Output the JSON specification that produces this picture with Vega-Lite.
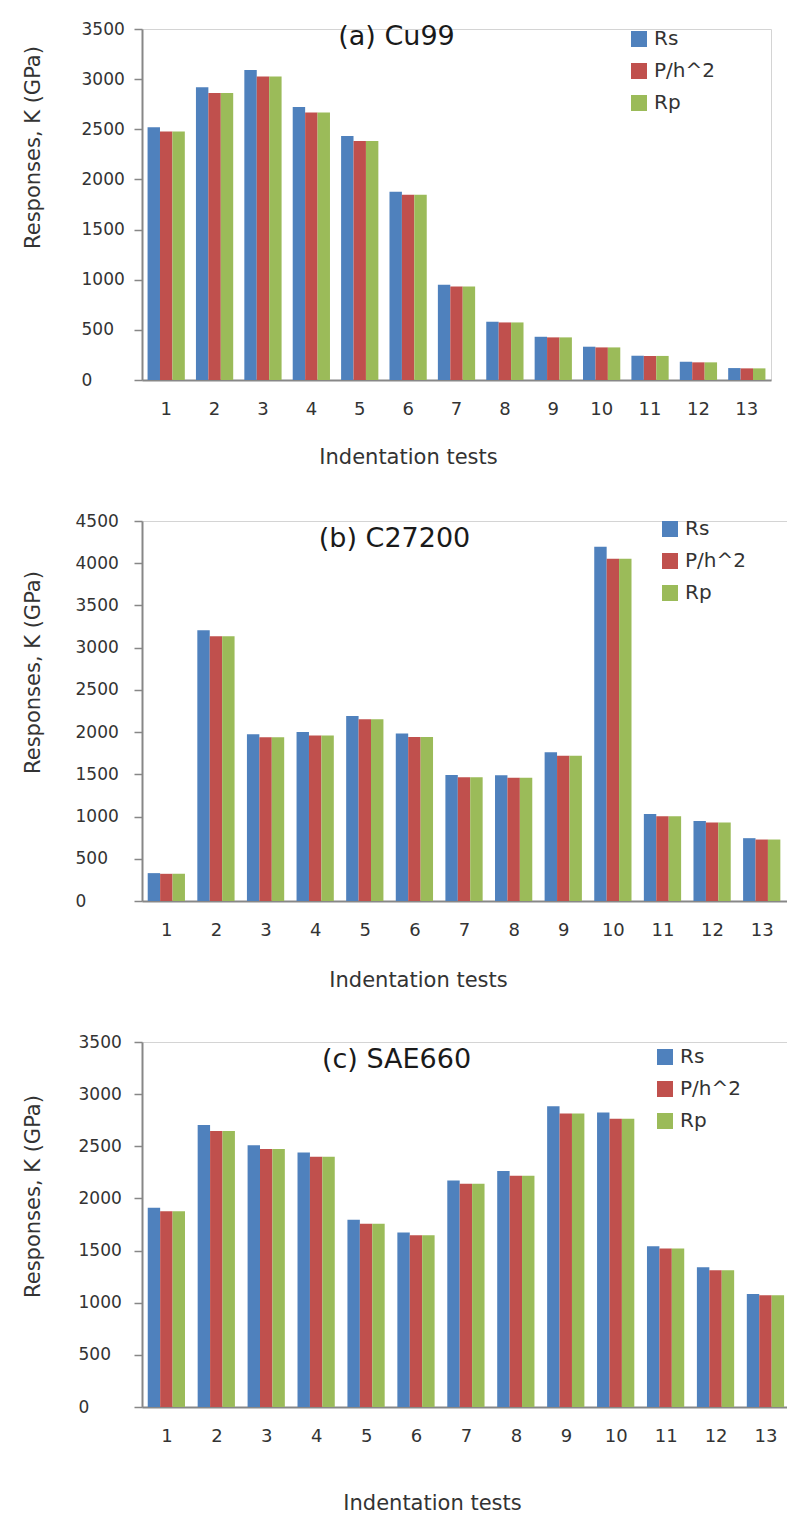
{
  "$schema": "https://vega.github.io/schema/vega-lite/v6.json",
  "background": "white",
  "padding": {"left": 21, "top": 19, "right": 0, "bottom": 0},
  "spacing": 141,
  "bounds": "flush",
  "datasets": {
    "k": [
      {"panel":"a","test":1,"series":"Rs","value":2520},{"panel":"a","test":1,"series":"P/h^2","value":2478},{"panel":"a","test":1,"series":"Rp","value":2478},
      {"panel":"a","test":2,"series":"Rs","value":2920},{"panel":"a","test":2,"series":"P/h^2","value":2863},{"panel":"a","test":2,"series":"Rp","value":2863},
      {"panel":"a","test":3,"series":"Rs","value":3092},{"panel":"a","test":3,"series":"P/h^2","value":3026},{"panel":"a","test":3,"series":"Rp","value":3026},
      {"panel":"a","test":4,"series":"Rs","value":2721},{"panel":"a","test":4,"series":"P/h^2","value":2668},{"panel":"a","test":4,"series":"Rp","value":2668},
      {"panel":"a","test":5,"series":"Rs","value":2432},{"panel":"a","test":5,"series":"P/h^2","value":2382},{"panel":"a","test":5,"series":"Rp","value":2382},
      {"panel":"a","test":6,"series":"Rs","value":1878},{"panel":"a","test":6,"series":"P/h^2","value":1848},{"panel":"a","test":6,"series":"Rp","value":1848},
      {"panel":"a","test":7,"series":"Rs","value":949},{"panel":"a","test":7,"series":"P/h^2","value":932},{"panel":"a","test":7,"series":"Rp","value":932},
      {"panel":"a","test":8,"series":"Rs","value":581},{"panel":"a","test":8,"series":"P/h^2","value":574},{"panel":"a","test":8,"series":"Rp","value":574},
      {"panel":"a","test":9,"series":"Rs","value":431},{"panel":"a","test":9,"series":"P/h^2","value":425},{"panel":"a","test":9,"series":"Rp","value":425},
      {"panel":"a","test":10,"series":"Rs","value":332},{"panel":"a","test":10,"series":"P/h^2","value":325},{"panel":"a","test":10,"series":"Rp","value":325},
      {"panel":"a","test":11,"series":"Rs","value":242},{"panel":"a","test":11,"series":"P/h^2","value":240},{"panel":"a","test":11,"series":"Rp","value":240},
      {"panel":"a","test":12,"series":"Rs","value":182},{"panel":"a","test":12,"series":"P/h^2","value":176},{"panel":"a","test":12,"series":"Rp","value":176},
      {"panel":"a","test":13,"series":"Rs","value":119},{"panel":"a","test":13,"series":"P/h^2","value":116},{"panel":"a","test":13,"series":"Rp","value":116},

      {"panel":"b","test":1,"series":"Rs","value":330},{"panel":"b","test":1,"series":"P/h^2","value":322},{"panel":"b","test":1,"series":"Rp","value":322},
      {"panel":"b","test":2,"series":"Rs","value":3205},{"panel":"b","test":2,"series":"P/h^2","value":3134},{"panel":"b","test":2,"series":"Rp","value":3134},
      {"panel":"b","test":3,"series":"Rs","value":1975},{"panel":"b","test":3,"series":"P/h^2","value":1939},{"panel":"b","test":3,"series":"Rp","value":1939},
      {"panel":"b","test":4,"series":"Rs","value":2002},{"panel":"b","test":4,"series":"P/h^2","value":1959},{"panel":"b","test":4,"series":"Rp","value":1959},
      {"panel":"b","test":5,"series":"Rs","value":2192},{"panel":"b","test":5,"series":"P/h^2","value":2153},{"panel":"b","test":5,"series":"Rp","value":2153},
      {"panel":"b","test":6,"series":"Rs","value":1983},{"panel":"b","test":6,"series":"P/h^2","value":1943},{"panel":"b","test":6,"series":"Rp","value":1943},
      {"panel":"b","test":7,"series":"Rs","value":1492},{"panel":"b","test":7,"series":"P/h^2","value":1464},{"panel":"b","test":7,"series":"Rp","value":1464},
      {"panel":"b","test":8,"series":"Rs","value":1488},{"panel":"b","test":8,"series":"P/h^2","value":1460},{"panel":"b","test":8,"series":"Rp","value":1460},
      {"panel":"b","test":9,"series":"Rs","value":1761},{"panel":"b","test":9,"series":"P/h^2","value":1721},{"panel":"b","test":9,"series":"Rp","value":1721},
      {"panel":"b","test":10,"series":"Rs","value":4195},{"panel":"b","test":10,"series":"P/h^2","value":4052},{"panel":"b","test":10,"series":"Rp","value":4052},
      {"panel":"b","test":11,"series":"Rs","value":1029},{"panel":"b","test":11,"series":"P/h^2","value":1005},{"panel":"b","test":11,"series":"Rp","value":1005},
      {"panel":"b","test":12,"series":"Rs","value":946},{"panel":"b","test":12,"series":"P/h^2","value":930},{"panel":"b","test":12,"series":"Rp","value":930},
      {"panel":"b","test":13,"series":"Rs","value":744},{"panel":"b","test":13,"series":"P/h^2","value":728},{"panel":"b","test":13,"series":"Rp","value":728},

      {"panel":"c","test":1,"series":"Rs","value":1910},{"panel":"c","test":1,"series":"P/h^2","value":1878},{"panel":"c","test":1,"series":"Rp","value":1878},
      {"panel":"c","test":2,"series":"Rs","value":2703},{"panel":"c","test":2,"series":"P/h^2","value":2646},{"panel":"c","test":2,"series":"Rp","value":2646},
      {"panel":"c","test":3,"series":"Rs","value":2511},{"panel":"c","test":3,"series":"P/h^2","value":2473},{"panel":"c","test":3,"series":"Rp","value":2473},
      {"panel":"c","test":4,"series":"Rs","value":2441},{"panel":"c","test":4,"series":"P/h^2","value":2399},{"panel":"c","test":4,"series":"Rp","value":2399},
      {"panel":"c","test":5,"series":"Rs","value":1795},{"panel":"c","test":5,"series":"P/h^2","value":1756},{"panel":"c","test":5,"series":"Rp","value":1756},
      {"panel":"c","test":6,"series":"Rs","value":1673},{"panel":"c","test":6,"series":"P/h^2","value":1647},{"panel":"c","test":6,"series":"Rp","value":1647},
      {"panel":"c","test":7,"series":"Rs","value":2172},{"panel":"c","test":7,"series":"P/h^2","value":2140},{"panel":"c","test":7,"series":"Rp","value":2140},
      {"panel":"c","test":8,"series":"Rs","value":2262},{"panel":"c","test":8,"series":"P/h^2","value":2217},{"panel":"c","test":8,"series":"Rp","value":2217},
      {"panel":"c","test":9,"series":"Rs","value":2885},{"panel":"c","test":9,"series":"P/h^2","value":2815},{"panel":"c","test":9,"series":"Rp","value":2815},
      {"panel":"c","test":10,"series":"Rs","value":2825},{"panel":"c","test":10,"series":"P/h^2","value":2764},{"panel":"c","test":10,"series":"Rp","value":2764},
      {"panel":"c","test":11,"series":"Rs","value":1542},{"panel":"c","test":11,"series":"P/h^2","value":1520},{"panel":"c","test":11,"series":"Rp","value":1520},
      {"panel":"c","test":12,"series":"Rs","value":1340},{"panel":"c","test":12,"series":"P/h^2","value":1312},{"panel":"c","test":12,"series":"Rp","value":1312},
      {"panel":"c","test":13,"series":"Rs","value":1084},{"panel":"c","test":13,"series":"P/h^2","value":1072},{"panel":"c","test":13,"series":"Rp","value":1072}
    ]
  },
  "resolve": {"scale": {"x": "independent", "y": "independent"}, "legend": {"color": "independent"}, "axis": {"x": "independent", "y": "independent"}},
  "vconcat": [
    {
      "width": 629, "height": 351,
      "data": {"name": "k"},
      "transform": [{"filter": "datum.panel == 'a'"}],
      "title": {"text": "(a) Cu99", "anchor": "middle", "dx": -60, "offset": -31, "fontSize": 27, "fontWeight": "normal", "color": "#1a1a1a"},
      "mark": {"type": "bar"},
      "encoding": {
        "x": {"field": "test", "type": "ordinal", "scale": {"paddingInner": 0.23, "paddingOuter": 0.115},
              "axis": {"title": "Indentation tests", "labelAngle": 0, "ticks": false, "labelPadding": 20, "titleX": 266, "titleY": 77, "titleBaseline": "middle", "titleAnchor": null}},
        "xOffset": {"field": "series", "type": "nominal", "sort": ["Rs", "P/h^2", "Rp"], "scale": {"paddingInner": 0, "paddingOuter": 0}},
        "y": {"field": "value", "type": "quantitative", "scale": {"domain": [0, 3500], "nice": false},
              "axis": {"title": "Responses, K (GPa)", "format": "d", "values": [0,500,1000,1500,2000,2500,3000,3500], "labelAlign": "left", "labelPadding": 53, "tickSize": 8, "titleX": -109, "titleY": 118, "titleBaseline": "middle", "titleAnchor": null}},
        "color": {"field": "series", "type": "nominal", "scale": {"domain": ["Rs", "P/h^2", "Rp"], "range": ["#4f81bd", "#c0504d", "#9bbb59"]},
                  "legend": {"orient": "none", "legendX": 487, "legendY": 0, "title": null}}
      }
    },
    {
      "width": 645, "height": 380,
      "data": {"name": "k"},
      "transform": [{"filter": "datum.panel == 'b'"}],
      "title": {"text": "(b) C27200", "anchor": "middle", "dx": -70, "offset": -41, "fontSize": 27, "fontWeight": "normal", "color": "#1a1a1a"},
      "mark": {"type": "bar"},
      "encoding": {
        "x": {"field": "test", "type": "ordinal", "scale": {"paddingInner": 0.23, "paddingOuter": 0.115},
              "axis": {"title": "Indentation tests", "labelAngle": 0, "ticks": false, "labelPadding": 20, "titleX": 276, "titleY": 79, "titleBaseline": "middle", "titleAnchor": null}},
        "xOffset": {"field": "series", "type": "nominal", "sort": ["Rs", "P/h^2", "Rp"], "scale": {"paddingInner": 0, "paddingOuter": 0}},
        "y": {"field": "value", "type": "quantitative", "scale": {"domain": [0, 4500], "nice": false},
              "axis": {"title": "Responses, K (GPa)", "format": "d", "values": [0,500,1000,1500,2000,2500,3000,3500,4000,4500], "labelAlign": "left", "labelPadding": 59, "tickSize": 8, "titleX": -109, "titleY": 151, "titleBaseline": "middle", "titleAnchor": null}},
        "color": {"field": "series", "type": "nominal", "scale": {"domain": ["Rs", "P/h^2", "Rp"], "range": ["#4f81bd", "#c0504d", "#9bbb59"]},
                  "legend": {"orient": "none", "legendX": 518, "legendY": -2, "title": null}}
      }
    },
    {
      "width": 649, "height": 365,
      "data": {"name": "k"},
      "transform": [{"filter": "datum.panel == 'c'"}],
      "title": {"text": "(c) SAE660", "anchor": "middle", "dx": -70, "offset": -41, "fontSize": 27, "fontWeight": "normal", "color": "#1a1a1a"},
      "mark": {"type": "bar"},
      "encoding": {
        "x": {"field": "test", "type": "ordinal", "scale": {"paddingInner": 0.23, "paddingOuter": 0.115},
              "axis": {"title": "Indentation tests", "labelAngle": 0, "ticks": false, "labelPadding": 20, "titleX": 290, "titleY": 96, "titleBaseline": "middle", "titleAnchor": null}},
        "xOffset": {"field": "series", "type": "nominal", "sort": ["Rs", "P/h^2", "Rp"], "scale": {"paddingInner": 0, "paddingOuter": 0}},
        "y": {"field": "value", "type": "quantitative", "scale": {"domain": [0, 3500], "nice": false},
              "axis": {"title": "Responses, K (GPa)", "format": "d", "values": [0,500,1000,1500,2000,2500,3000,3500], "labelAlign": "left", "labelPadding": 56, "tickSize": 8, "titleX": -109, "titleY": 154, "titleBaseline": "middle", "titleAnchor": null}},
        "color": {"field": "series", "type": "nominal", "scale": {"domain": ["Rs", "P/h^2", "Rp"], "range": ["#4f81bd", "#c0504d", "#9bbb59"]},
                  "legend": {"orient": "none", "legendX": 513, "legendY": 5, "title": null}}
      }
    }
  ],
  "config": {
    "font": "DejaVu Sans",
    "view": {"stroke": "#d4d4d4", "strokeWidth": 1},
    "axis": {"labelColor": "#333333", "titleColor": "#333333", "domainColor": "#878787", "domainWidth": 2, "tickColor": "#878787", "tickWidth": 1.5, "grid": false,
             "labelFont": "DejaVu Sans", "titleFont": "DejaVu Sans", "titleFontWeight": "normal", "labelFontSize": 17, "titleFontSize": 21},
    "axisX": {"labelFontSize": 18},
    "legend": {"symbolType": "square", "symbolSize": 256, "symbolStrokeWidth": 0, "labelFontSize": 20, "labelColor": "#333333", "rowPadding": 12, "labelOffset": 5, "padding": 0, "labelFont": "DejaVu Sans"},
    "bar": {"stroke": null}
  }
}
